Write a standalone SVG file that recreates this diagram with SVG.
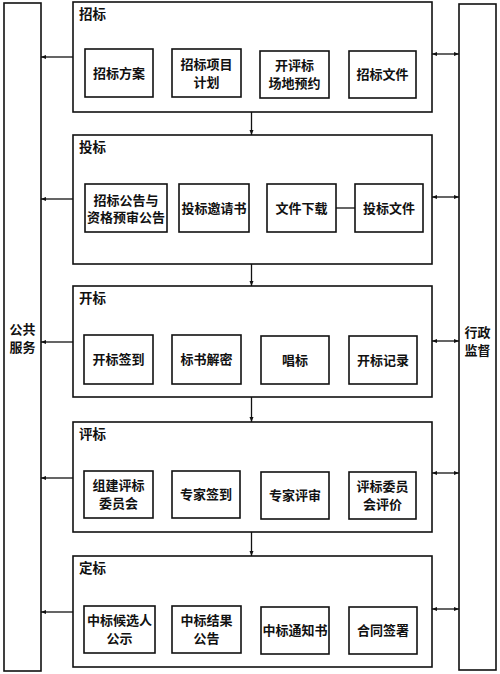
<svg xmlns="http://www.w3.org/2000/svg" width="500" height="674" viewBox="0 0 500 674">
<defs>
<marker id="ah" viewBox="0 0 10 10" refX="10" refY="5" markerWidth="7" markerHeight="5" orient="auto-start-reverse" markerUnits="userSpaceOnUse">
<path d="M0,1 L10,5 L0,9 z" fill="#111"/>
</marker>
<style>
rect{fill:#fff;stroke:#111;stroke-width:1.6}
.t{font-family:"Noto Sans CJK SC","Noto Sans",sans-serif;font-size:13px;font-weight:bold;fill:#111;text-anchor:middle}
.h{font-family:"Noto Sans CJK SC","Noto Sans",sans-serif;font-size:13.5px;font-weight:bold;fill:#111}
.c line{stroke:#111;stroke-width:1.3;fill:none}
</style>
</defs>
<rect width="500" height="674" style="fill:#fff;stroke:none"/>
<g id="public-service">
<rect x="4" y="3" width="37" height="668"/>
<text class="t" x="22.5" y="334">公共</text>
<text class="t" x="22.5" y="352">服务</text>
</g>
<g id="admin-supervision">
<rect x="459" y="4" width="37" height="666"/>
<text class="t" x="477.5" y="337">行政</text>
<text class="t" x="477.5" y="355">监督</text>
</g>
<g id="sec1">
<rect x="73" y="2" width="359" height="110"/>
<text class="h" x="79" y="19">招标</text>
</g>
<g id="s1b1"><rect x="85" y="49" width="68" height="48"/><text class="t" x="119" y="78">招标方案</text></g>
<g id="s1b2"><rect x="172" y="49" width="69" height="48"/><text class="t" x="206.5" y="69">招标项目</text><text class="t" x="206.5" y="86.5">计划</text></g>
<g id="s1b3"><rect x="260" y="51" width="69" height="47"/><text class="t" x="294.5" y="70">开评标</text><text class="t" x="294.5" y="87.5">场地预约</text></g>
<g id="s1b4"><rect x="349" y="51" width="67" height="47"/><text class="t" x="382.5" y="79">招标文件</text></g>
<g id="sec2">
<rect x="73" y="135" width="359" height="129"/>
<text class="h" x="79" y="152">投标</text>
</g>
<g id="s2b1"><rect x="85" y="184" width="82" height="48"/><text class="t" x="126" y="204.5">招标公告与</text><text class="t" x="126" y="222">资格预审公告</text></g>
<g id="s2b2"><rect x="179" y="184" width="70" height="48"/><text class="t" x="214" y="213">投标邀请书</text></g>
<g id="s2b3"><rect x="267" y="184" width="69" height="48"/><text class="t" x="301.5" y="213">文件下载</text></g>
<g id="s2b4"><rect x="355" y="184" width="68" height="48"/><text class="t" x="389" y="213">投标文件</text></g>
<g id="sec3">
<rect x="73" y="286" width="359" height="111"/>
<text class="h" x="79" y="303">开标</text>
</g>
<g id="s3b1"><rect x="84" y="335" width="69" height="49"/><text class="t" x="118.5" y="364">开标签到</text></g>
<g id="s3b2"><rect x="172" y="335" width="69" height="49"/><text class="t" x="206.5" y="364">标书解密</text></g>
<g id="s3b3"><rect x="261" y="336" width="68" height="48"/><text class="t" x="295" y="365">唱标</text></g>
<g id="s3b4"><rect x="349" y="336" width="68" height="48"/><text class="t" x="383" y="365">开标记录</text></g>
<g id="sec4">
<rect x="73" y="422" width="359" height="110"/>
<text class="h" x="79" y="439">评标</text>
</g>
<g id="s4b1"><rect x="84" y="471" width="69" height="47"/><text class="t" x="118.5" y="490">组建评标</text><text class="t" x="118.5" y="507.5">委员会</text></g>
<g id="s4b2"><rect x="172" y="471" width="68" height="47"/><text class="t" x="206" y="499">专家签到</text></g>
<g id="s4b3"><rect x="261" y="472" width="68" height="47"/><text class="t" x="295" y="500">专家评审</text></g>
<g id="s4b4"><rect x="349" y="472" width="67" height="47"/><text class="t" x="382.5" y="491">评标委员</text><text class="t" x="382.5" y="508.5">会评价</text></g>
<g id="sec5">
<rect x="73" y="556" width="359" height="111"/>
<text class="h" x="79" y="573">定标</text>
</g>
<g id="s5b1"><rect x="84" y="606" width="71" height="47"/><text class="t" x="119.5" y="625">中标候选人</text><text class="t" x="119.5" y="642.5">公示</text></g>
<g id="s5b2"><rect x="172" y="606" width="69" height="47"/><text class="t" x="206.5" y="625">中标结果</text><text class="t" x="206.5" y="642.5">公告</text></g>
<g id="s5b3"><rect x="261" y="607" width="68" height="47"/><text class="t" x="295" y="635">中标通知书</text></g>
<g id="s5b4"><rect x="349" y="607" width="68" height="47"/><text class="t" x="383" y="635">合同签署</text></g>
<g id="connectors" class="c">
<line x1="336" y1="208" x2="355" y2="208"/>
<line x1="251.5" y1="112" x2="251.5" y2="135" marker-end="url(#ah)"/>
<line x1="251.5" y1="264" x2="251.5" y2="286" marker-end="url(#ah)"/>
<line x1="251.5" y1="397" x2="251.5" y2="422" marker-end="url(#ah)"/>
<line x1="251.5" y1="532" x2="251.5" y2="556" marker-end="url(#ah)"/>
<line x1="73" y1="57" x2="41" y2="57" marker-end="url(#ah)"/>
<line x1="73" y1="199" x2="41" y2="199" marker-end="url(#ah)"/>
<line x1="73" y1="342" x2="41" y2="342" marker-end="url(#ah)"/>
<line x1="73" y1="478" x2="41" y2="478" marker-end="url(#ah)"/>
<line x1="73" y1="612" x2="41" y2="612" marker-end="url(#ah)"/>
<line x1="432" y1="54" x2="459" y2="54" marker-start="url(#ah)" marker-end="url(#ah)"/>
<line x1="432" y1="197" x2="459" y2="197" marker-start="url(#ah)" marker-end="url(#ah)"/>
<line x1="432" y1="341" x2="459" y2="341" marker-start="url(#ah)" marker-end="url(#ah)"/>
<line x1="432" y1="473" x2="459" y2="473" marker-start="url(#ah)" marker-end="url(#ah)"/>
<line x1="432" y1="609" x2="459" y2="609" marker-start="url(#ah)" marker-end="url(#ah)"/>
</g>
</svg>
